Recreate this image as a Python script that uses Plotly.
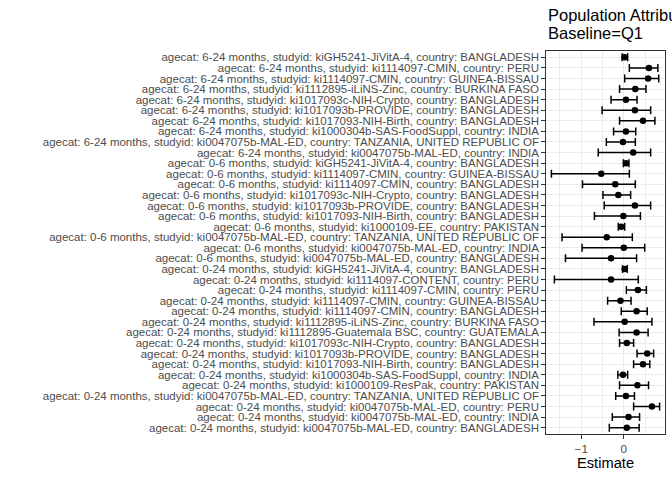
import plotly.graph_objects as go

agecat = (["6-24 months"] * 10 + ["0-6 months"] * 10 + ["0-24 months"] * 16)
studyid = [
    "kiGH5241-JiVitA-4", "ki1114097-CMIN", "ki1114097-CMIN", "ki1112895-iLiNS-Zinc",
    "ki1017093c-NIH-Crypto", "ki1017093b-PROVIDE", "ki1017093-NIH-Birth",
    "ki1000304b-SAS-FoodSuppl", "ki0047075b-MAL-ED", "ki0047075b-MAL-ED",
    "kiGH5241-JiVitA-4", "ki1114097-CMIN", "ki1114097-CMIN", "ki1017093c-NIH-Crypto",
    "ki1017093b-PROVIDE", "ki1017093-NIH-Birth", "ki1000109-EE", "ki0047075b-MAL-ED",
    "ki0047075b-MAL-ED", "ki0047075b-MAL-ED",
    "kiGH5241-JiVitA-4", "ki1114097-CONTENT", "ki1114097-CMIN", "ki1114097-CMIN",
    "ki1114097-CMIN", "ki1112895-iLiNS-Zinc", "ki1112895-Guatemala BSC",
    "ki1017093c-NIH-Crypto", "ki1017093b-PROVIDE", "ki1017093-NIH-Birth",
    "ki1000304b-SAS-FoodSuppl", "ki1000109-ResPak", "ki0047075b-MAL-ED",
    "ki0047075b-MAL-ED", "ki0047075b-MAL-ED", "ki0047075b-MAL-ED",
]
country = [
    "BANGLADESH", "PERU", "GUINEA-BISSAU", "BURKINA FASO", "BANGLADESH", "BANGLADESH",
    "BANGLADESH", "INDIA", "TANZANIA, UNITED REPUBLIC OF", "INDIA",
    "BANGLADESH", "GUINEA-BISSAU", "BANGLADESH", "BANGLADESH", "BANGLADESH",
    "BANGLADESH", "PAKISTAN", "TANZANIA, UNITED REPUBLIC OF", "INDIA", "BANGLADESH",
    "BANGLADESH", "PERU", "PERU", "GUINEA-BISSAU", "BANGLADESH", "BURKINA FASO",
    "GUATEMALA", "BANGLADESH", "BANGLADESH", "BANGLADESH", "INDIA", "PAKISTAN",
    "TANZANIA, UNITED REPUBLIC OF", "PERU", "INDIA", "BANGLADESH",
]
estimate = [
    0.02, 0.59, 0.57, 0.27, 0.05, 0.26, 0.45, 0.05, -0.02, 0.22,
    0.05, -0.53, -0.20, -0.13, 0.26, -0.01, -0.06, -0.40, 0.00, -0.30,
    0.02, -0.30, 0.33, -0.08, 0.30, 0.02, 0.30, 0.07, 0.55, 0.45, -0.02, 0.32,
    0.05, 0.66, 0.11, 0.07,
]
ci_lower = [
    -0.04, 0.13, 0.02, -0.10, -0.30, -0.51, -0.10, -0.24, -0.41, -0.60,
    -0.01, -1.70, -0.97, -0.49, -0.46, -0.69, -0.13, -1.45, -0.98, -1.37,
    -0.03, -1.63, 0.06, -0.38, -0.06, -0.70, -0.11, -0.10, 0.31, 0.23, -0.14, -0.10,
    -0.19, 0.23, -0.27, -0.34,
]
ci_upper = [
    0.09, 0.80, 0.82, 0.52, 0.31, 0.63, 0.73, 0.28, 0.27, 0.63,
    0.12, 0.13, 0.27, 0.16, 0.63, 0.39, 0.02, 0.20, 0.49, 0.30,
    0.08, 0.34, 0.53, 0.17, 0.55, 0.66, 0.57, 0.23, 0.70, 0.61, 0.09, 0.58,
    0.25, 0.84, 0.37, 0.36,
]
title_lines = ["Population Attributable Difference", "Baseline=Q1"]
x_title = "Estimate"

labels = [f"agecat: {a}, studyid: {s}, country: {c}" for a, s, c in zip(agecat, studyid, country)]
ypos = list(range(len(labels)))

err_plus = [h - e for h, e in zip(ci_upper, estimate)]
err_minus = [e - l for e, l in zip(estimate, ci_lower)]

lo_min = min(ci_lower)
hi_max = max(ci_upper)
span = hi_max - lo_min
xrange = [lo_min - 0.05 * span, hi_max + 0.05 * span]

FONT = "Liberation Sans, Arial, Helvetica, sans-serif"

fig = go.Figure()
fig.add_trace(go.Scatter(
    x=estimate, y=ypos, mode="markers",
    marker=dict(color="black", size=6.5),
    error_x=dict(type="data", symmetric=False, array=err_plus, arrayminus=err_minus,
                 color="black", thickness=1.5, width=4),
    showlegend=False,
))

fig.update_layout(
    width=672, height=480,
    margin=dict(l=546, r=7, t=51, b=46, pad=0),
    paper_bgcolor="white", plot_bgcolor="white",
    font=dict(family=FONT, color="#4D4D4D"),
    xaxis=dict(
        range=xrange, dtick=1, tick0=0, showgrid=True, gridcolor="#EBEBEB", gridwidth=1.07,
        zeroline=False, ticks="outside", ticklen=3.7, tickwidth=1.07, tickcolor="#333333",
        tickfont=dict(size=11.7, color="#4D4D4D"),
        minor=dict(dtick=0.5, tick0=0, showgrid=True, gridcolor="#EBEBEB", gridwidth=0.55, ticks=""),
        showline=True, linecolor="#333333", linewidth=1.07, mirror=True,
        title=dict(text=x_title, font=dict(size=14.7, color="black"), standoff=3),
    ),
    yaxis=dict(
        tickmode="array", tickvals=ypos, ticktext=labels,
        range=[len(labels) - 1 + 0.6, -0.6],
        showgrid=True, gridcolor="#EBEBEB", gridwidth=1.07, zeroline=False,
        ticks="outside", ticklen=3.7, tickwidth=1.07, tickcolor="#333333",
        tickfont=dict(size=11.5, color="#4D4D4D"),
        showline=True, linecolor="#333333", linewidth=1.07, mirror=True,
    ),
    annotations=[
        dict(text=title_lines[0], xref="paper", yref="paper",
             x=0, y=1, xanchor="left", yanchor="middle", xshift=0, yshift=36,
             showarrow=False, font=dict(size=16.5, color="black", family=FONT)),
        dict(text=title_lines[1], xref="paper", yref="paper",
             x=0, y=1, xanchor="left", yanchor="middle", xshift=0, yshift=18.5,
             showarrow=False, font=dict(size=16.5, color="black", family=FONT)),
    ],
)

fig.write_html("out.html")
